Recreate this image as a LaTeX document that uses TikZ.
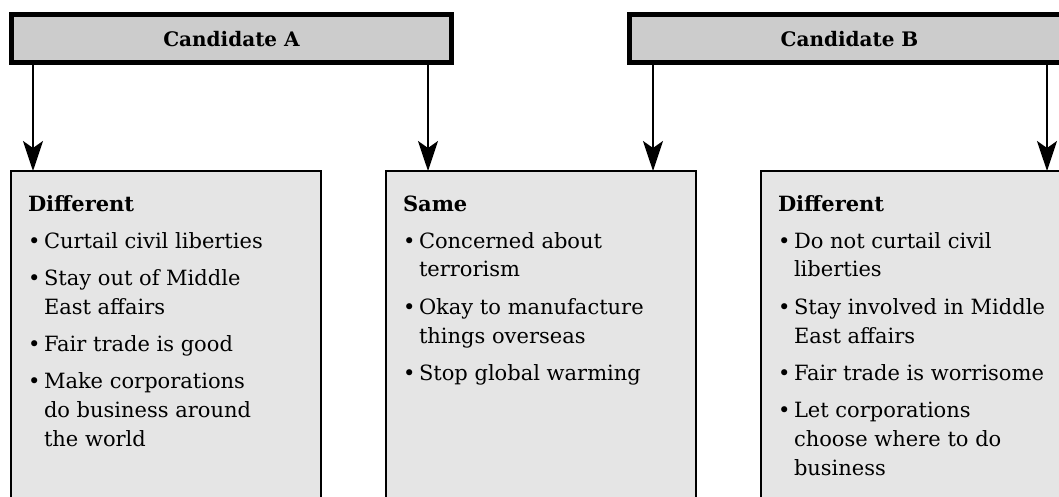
\documentclass[tikz,border=0pt]{standalone}
\usepackage{fontspec}
\setmainfont{DejaVu Serif}
\usetikzlibrary{arrows.meta}

% bulleted entry with a hanging indent for wrapped lines
\newcommand\bitem[1]{\par\vspace{8pt}\hangindent=16pt\hangafter=1\noindent\makebox[16pt][l]{\textbullet}#1}
\newcommand\listbox[1]{\parbox[t]{290pt}{\fontsize{21}{29}\selectfont\noindent #1}}

\definecolor{barfill}{HTML}{CCCCCC}
\definecolor{boxfill}{HTML}{E5E5E5}

\tikzset{
  candbar/.style={draw=black, line width=5pt, fill=barfill, shape=rectangle,
    minimum width=440pt, minimum height=48pt, inner sep=0pt, outer sep=0pt,
    font=\fontsize{20}{25}\selectfont\bfseries, text depth=0pt},
  listframe/.style={draw=black, line width=2.2pt, fill=boxfill, shape=rectangle,
    anchor=north west, minimum width=310pt, minimum height=360pt,
    inner sep=0pt, outer sep=0pt},
  listtext/.style={anchor=base west, inner sep=0pt, outer sep=0pt},
  arr/.style={draw=black, line width=2pt,
    -{Stealth[length=30pt, width=20pt, inset=7pt]}}
}

\begin{document}
\begin{tikzpicture}[x=1pt, y=-1pt]
\useasboundingbox (0,0) rectangle (1059,497);
\clip (0,0) rectangle (1059,497);
\fill[white] (0,0) rectangle (1059,497);

% candidate header bars
\node[candbar] (barA) at (231.5,38.5) {Candidate A};
\node[candbar] (barB) at (849.5,38.5) {Candidate B};

% comparison boxes
\node[listframe] (boxL) at (11,171) {};
\node[listframe] (boxM) at (386,171) {};
\node[listframe] (boxR) at (761,171) {};

\node[listtext] (txtL) at (28,211) {\listbox{%
  \textbf{Different}
  \bitem{Curtail civil liberties}
  \bitem{Stay out of Middle\newline East affairs}
  \bitem{Fair trade is good}
  \bitem{Make corporations\newline do business around\newline the world}}};

\node[listtext] (txtM) at (403,211) {\listbox{%
  \textbf{Same}
  \bitem{Concerned about\newline terrorism}
  \bitem{Okay to manufacture\newline things overseas}
  \bitem{Stop global warming}}};

\node[listtext] (txtR) at (778,211) {\listbox{%
  \textbf{Different}
  \bitem{Do not curtail civil\newline liberties}
  \bitem{Stay involved in Middle\newline East affairs}
  \bitem{Fair trade is worrisome}
  \bitem{Let corporations\newline choose where to do\newline business}}};

% arrow columns
\coordinate (c1) at (33,0);
\coordinate (c2) at (428,0);
\coordinate (c3) at (653,0);
\coordinate (c4) at (1047,0);

\draw[arr] (barA.south -| c1) -- (boxL.north -| c1);
\draw[arr] (barA.south -| c2) -- (boxM.north -| c2);
\draw[arr] (barB.south -| c3) -- (boxM.north -| c3);
\draw[arr] (barB.south -| c4) -- (boxR.north -| c4);
\end{tikzpicture}
\end{document}
